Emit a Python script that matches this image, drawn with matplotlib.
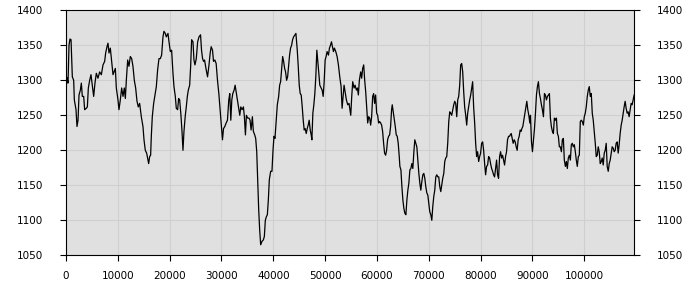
import matplotlib
matplotlib.use("Agg")
import matplotlib.pyplot as plt

x_vals = [0, 190, 390, 580, 770, 970, 1220, 1480, 1610, 1930, 2120, 2320, 2510, 2770, 2960, 3150, 3410, 3600, 3920, 4120, 4310, 4570, 4820, 5020, 5340, 5590, 5850, 6170, 6490, 6820, 7140, 7460, 7650, 7910, 8100, 8300, 8550, 8750, 9070, 9260, 9520, 9710, 10030, 10220, 10480, 10740, 11000, 11250, 11450, 11640, 11900, 12150, 12410, 12670, 12920, 13180, 13440, 13700, 13950, 14210, 14530, 14850, 15050, 15300, 15560, 15820, 15950, 16140, 16330, 16460, 16650, 16910, 17170, 17430, 17680, 17940, 18200, 18450, 18710, 18900, 19160, 19350, 19680, 19870, 20130, 20380, 20640, 20830, 21090, 21280, 21540, 21730, 21930, 22180, 22380, 22570, 22760, 23020, 23210, 23410, 23600, 23860, 24050, 24240, 24500, 24690, 24880, 25140, 25400, 25660,
          25960, 26150, 26350, 26540, 26730, 27050, 27310, 27560, 27820, 28010, 28270, 28460, 28720, 28970, 29230, 29490, 29740, 30000, 30190, 30390, 30640, 30900, 31150, 31410, 31600, 31800, 31990, 32180, 32440, 32630, 32820, 33080, 33330, 33530, 33720, 33970, 34230, 34420, 34620, 34810, 35060, 35320, 35510, 35710, 35960, 36150, 36410, 36600, 36800, 36990, 37180, 37370, 37560, 37820, 38080, 38270, 38460, 38650, 38850, 39040, 39230, 39490, 39740, 39940, 40130, 40320, 40580, 40770, 41030, 41220, 41410, 41600, 41800, 41990, 42180, 42370, 42560, 42760, 42950, 43140, 43330, 43530, 43720, 43910, 44170, 44360, 44620, 44810, 45000, 45190, 45380, 45580, 45770, 45960, 46150, 46350, 46540, 46730, 46920, 47120, 47310, 47440, 47630, 47820, 48010, 48200, 48400, 48590, 48780, 48970, 49230, 49420, 49620, 49810, 50000, 50190, 50380, 50640, 50830, 51030, 51220, 51410, 51600, 51790, 52050, 52310, 52560, 52820, 53080, 53270, 53460, 53650, 53850, 54100, 54360, 54610,
          54940, 55130, 55320, 55580, 55770, 56030, 56220, 56410, 56600, 56860, 57050, 57240, 57440, 57630, 57820, 58010, 58210, 58400, 58590, 58780, 58970, 59170, 59360, 59550, 59740, 59940, 60130, 60320, 60510, 60710, 60900, 61090, 61280, 61470, 61670, 61860, 62050, 62240, 62440, 62630, 62820, 62950, 63140, 63330, 63530, 63720, 63910, 64100, 64300, 64420, 64620, 64810, 65000, 65190, 65380, 65580, 65770, 65960, 66150, 66350, 66540, 66730, 66920, 67120, 67300, 67690, 67890, 68080, 68270, 68460, 68650, 68850, 69040, 69230, 69420, 69620, 69810, 70000, 70190, 70390, 70580, 70770, 70960, 71150, 71350, 71540, 71730, 71920, 72120, 72310, 72500, 72690, 72890, 73080, 73270, 73460, 73650, 73850, 74040, 74230, 74420, 74620, 74810, 75000, 75190, 75390, 75580, 75770, 75960, 76150, 76350, 76540, 76730, 76920, 77120, 77310, 77500, 77690, 77890, 78080, 78270, 78460, 78650, 78850, 79040, 79230, 79420, 79620, 79810, 80000, 80190, 80390, 80580, 80770, 80960, 81150, 81350, 81540, 81730, 81920, 82120, 82310, 82500, 82690, 82890, 83080, 83270, 83460, 83660, 83850, 84040, 84230, 84420, 84620, 84810, 85000, 85190, 85390, 85580,
          85710, 85900, 86090, 86280, 86480, 86670, 86860, 87050, 87240, 87440, 87630, 87820, 87950, 88140, 88330, 88530, 88720, 88910, 89100, 89300, 89490, 89620, 89810, 90000, 90190, 90390, 90580, 90770, 90960, 91150, 91350, 91540, 91730, 91920, 92120, 92310, 92500, 92690, 92890, 93080, 93270, 93460, 93650, 93850, 94040, 94230, 94420, 94620, 94810, 95000, 95190, 95380, 95580, 95770, 95960, 96150, 96350, 96540, 96730, 96920, 97120, 97310, 97500, 97690, 97880, 98080, 98270, 98460, 98650, 98850, 99040, 99230, 99420, 99620, 99810, 100000, 100190, 100380, 100580, 100770, 100960, 101150, 101350, 101540, 101730, 101920, 102120, 102310, 102500, 102690, 102880, 103080, 103270, 103460, 103650, 103850, 104040, 104230, 104420, 104620, 104810, 105000, 105190, 105380, 105580, 105770, 105960, 106150, 106350, 106540, 106730, 106920, 107120, 107310, 107500, 107690, 107880, 108080, 108270, 108460, 108650, 108850, 109040, 109230, 109420, 109620]

y_vals = [1286, 1304, 1296, 1350, 1359, 1358, 1305, 1300, 1272, 1258, 1234, 1243, 1279, 1286, 1296, 1277, 1277, 1258, 1260, 1262, 1289, 1300, 1308, 1296, 1277, 1296, 1310, 1303, 1312, 1308, 1322, 1327, 1339, 1348, 1353, 1339, 1346, 1331, 1308, 1312, 1317, 1289, 1272, 1258, 1272, 1289, 1277, 1289, 1274, 1300, 1329, 1320, 1334, 1331, 1320, 1300, 1289, 1270, 1262, 1267, 1248, 1234, 1215, 1200, 1196, 1186, 1181, 1191, 1193, 1220, 1248, 1267, 1279, 1291, 1315, 1331, 1331, 1336, 1362, 1370, 1367, 1362, 1367, 1355, 1341, 1343, 1310, 1291, 1277, 1260, 1258, 1274, 1272, 1250, 1227, 1200, 1227, 1250, 1262, 1277, 1286, 1293, 1320, 1358, 1355, 1329, 1322, 1331, 1355, 1362,
          1365, 1343, 1331, 1327, 1329, 1315, 1305, 1320, 1339, 1348, 1343, 1327, 1329, 1324, 1300, 1281, 1258, 1234, 1215, 1231, 1234, 1239, 1243, 1272, 1281, 1243, 1272, 1281, 1286, 1293, 1284, 1272, 1260, 1250, 1262, 1258, 1262, 1248, 1222, 1250, 1246, 1246, 1243, 1229, 1248, 1227, 1222, 1217, 1198, 1158, 1115, 1086, 1065, 1070, 1072, 1077, 1100, 1105, 1108, 1129, 1158, 1170, 1170, 1200, 1220, 1217, 1246, 1265, 1277, 1293, 1298, 1315, 1334, 1327, 1317, 1312, 1300, 1305, 1320, 1336, 1346, 1350, 1358, 1362, 1365, 1367, 1343, 1320, 1293, 1281, 1279, 1262, 1243, 1229, 1231, 1224, 1231, 1236, 1243, 1229, 1222, 1215, 1253, 1265, 1281, 1305, 1343, 1327, 1310, 1293, 1289, 1286, 1277, 1298, 1329, 1334, 1341, 1336, 1346, 1350, 1355, 1348, 1341, 1346, 1341, 1334, 1322, 1305, 1291, 1260, 1277, 1293, 1284, 1272, 1265, 1267,
          1250, 1277, 1298, 1289, 1293, 1286, 1289, 1279, 1300, 1312, 1303, 1317, 1322, 1300, 1284, 1262, 1239, 1248, 1246, 1236, 1248, 1277, 1281, 1267, 1279, 1253, 1250, 1239, 1241, 1239, 1236, 1227, 1210, 1196, 1193, 1200, 1215, 1220, 1222, 1234, 1258, 1265, 1255, 1246, 1234, 1222, 1220, 1210, 1191, 1177, 1172, 1148, 1129, 1117, 1110, 1108, 1129, 1143, 1153, 1172, 1174, 1181, 1174, 1198, 1215, 1205, 1186, 1167, 1153, 1143, 1155, 1165, 1167, 1160, 1148, 1139, 1136, 1124, 1112, 1108, 1100, 1120, 1134, 1143, 1162, 1165, 1162, 1162, 1148, 1141, 1150, 1160, 1167, 1184, 1189, 1191, 1210, 1241, 1255, 1253, 1250, 1258, 1265, 1270, 1267, 1248, 1272, 1277, 1293, 1322, 1324, 1312, 1284, 1262, 1250, 1236, 1253, 1262, 1272, 1279, 1289, 1298, 1262, 1239, 1210, 1191, 1198, 1184, 1191, 1196, 1210, 1212, 1200, 1181, 1165, 1177, 1179, 1191, 1189, 1181, 1174, 1170, 1165, 1162, 1174, 1186, 1165, 1160, 1191, 1198, 1189, 1193, 1186, 1179, 1191, 1198, 1215, 1220, 1220,
          1222, 1224, 1217, 1210, 1215, 1212, 1205, 1200, 1215, 1220, 1229, 1227, 1231, 1234, 1243, 1253, 1262, 1270, 1258, 1250, 1239, 1250, 1212, 1198, 1215, 1231, 1253, 1279, 1291, 1298, 1281, 1274, 1265, 1258, 1248, 1281, 1279, 1272, 1277, 1279, 1281, 1246, 1234, 1227, 1224, 1246, 1243, 1246, 1224, 1220, 1205, 1205, 1198, 1215, 1217, 1186, 1177, 1184, 1174, 1189, 1193, 1186, 1208, 1210, 1205, 1208, 1198, 1186, 1177, 1191, 1193, 1241, 1243, 1241, 1236, 1248, 1253, 1262, 1277, 1286, 1291, 1277, 1281, 1253, 1243, 1227, 1210, 1191, 1193, 1205, 1198, 1181, 1184, 1189, 1179, 1196, 1200, 1210, 1177, 1170, 1181, 1186, 1196, 1205, 1203, 1198, 1200, 1210, 1212, 1196, 1208, 1224, 1236, 1243, 1253, 1262, 1270, 1260, 1253, 1255, 1248, 1258, 1267, 1265, 1272, 1279]

x_ticks = [0, 10000, 20000, 30000, 40000, 50000, 60000, 70000, 80000, 90000, 100000]
y_ticks = [1050, 1100, 1150, 1200, 1250, 1300, 1350, 1400]

fig = plt.figure(figsize=(7, 3), dpi=100)
ax = fig.add_axes([66 / 700, 1 - 255.3 / 300, (634.3 - 66) / 700, (255.3 - 10.3) / 300])
ax.set_facecolor("#e0e0e0")
ax.plot(x_vals, y_vals, color="black", linewidth=0.9)
ax.set_xlim(0, 109650)
ax.set_ylim(1050, 1400)
ax.set_xticks(x_ticks)
ax.set_yticks(y_ticks)
ax.set_xticklabels([str(v) for v in x_ticks])
ax.set_yticklabels([str(v) for v in y_ticks])
ax.grid(True, color="#cfcfcf", linewidth=0.8)
ax.set_axisbelow(True)
ax.tick_params(axis="both", direction="out", length=4, width=0.8, labelsize=7.5, colors="black")
ax.tick_params(axis="x", pad=7.5)
ax.tick_params(axis="y", right=True, labelright=True, pad=12.5)
for s in ax.spines.values():
    s.set_linewidth(0.8)
fig.savefig("out.png", dpi=100)
